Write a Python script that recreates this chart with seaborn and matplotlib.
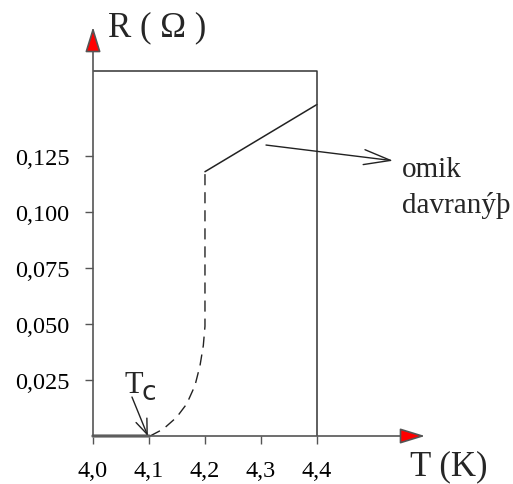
import numpy as np
import pandas as pd
import matplotlib.pyplot as plt
import seaborn as sns

# ------------------------
# Data
# ------------------------
t_normal = [4.20, 4.40]
r_normal = [0.118, 0.148]

t_trans = [4.102, 4.1255, 4.1495, 4.1673, 4.1821, 4.1911, 4.197, 4.200, 4.200]
r_trans = [0.000, 0.0031, 0.0084, 0.0143, 0.0225, 0.0314, 0.0403, 0.049, 0.118]

t_super = [4.00, 4.10]
r_super = [0.0, 0.0]

x_ticks = [4.0, 4.1, 4.2, 4.3, 4.4]
x_labels = ["4,0", "4,1", "4,2", "4,3", "4,4"]
y_ticks = [0.025, 0.050, 0.075, 0.100, 0.125]
y_labels = ["0,025", "0,050", "0,075", "0,100", "0,125"]

box_top = 0.163
x_max = 4.593
y_max = 0.1826

sns.set_theme(style="white")
plt.rcParams['font.family'] = 'serif'
plt.rcParams['font.serif'] = ['Liberation Serif', 'DejaVu Serif']
SERIF = 'Liberation Serif'

fig = plt.figure(figsize=(5.13, 4.85), dpi=100)
ax = fig.add_axes([93 / 513, 48 / 485, 332 / 513, 409 / 485])
ax.set_xlim(4.0, x_max)
ax.set_ylim(0, y_max)

# ------------------------
# Curves
# ------------------------
normal = pd.DataFrame({'T': t_normal, 'R': r_normal})
trans = pd.DataFrame({'T': t_trans, 'R': r_trans})
superc = pd.DataFrame({'T': t_super, 'R': r_super})

sns.lineplot(data=superc, x='T', y='R', color='#8a8a8a', linewidth=2.6, ax=ax, clip_on=False)
sns.lineplot(data=normal, x='T', y='R', color='#222222', linewidth=1.1, ax=ax, sort=False)
sns.lineplot(data=trans, x='T', y='R', color='#222222', linewidth=1.0, ax=ax,
             sort=False, estimator=None, linestyle=(0, (8, 5)))

# frame box (top and right side)
ax.plot([4.0, 4.4, 4.4], [box_top, box_top, 0], color='#333333', linewidth=1.1)

# ------------------------
# Axes with red arrow heads
# ------------------------
for sp in ax.spines.values():
    sp.set_visible(False)

arrow_kw = dict(arrowstyle='-|>,head_length=1.3,head_width=0.4',
                facecolor='red', edgecolor='#555555', linewidth=1.2, shrinkA=0, shrinkB=0)
ax.annotate('', xy=(4.0, y_max), xytext=(4.0, 0), arrowprops=arrow_kw, annotation_clip=False)
ax.annotate('', xy=(x_max, 0), xytext=(4.0, 0), arrowprops=arrow_kw, annotation_clip=False)

ax.set_xticks(x_ticks)
ax.set_xticklabels(x_labels, fontfamily=SERIF)
ax.set_yticks(y_ticks)
ax.set_yticklabels(y_labels, fontfamily=SERIF)
ax.tick_params(axis='both', direction='out', length=6, width=1, color='#555555',
               labelsize=17.5, pad=11, labelcolor='black', bottom=True, left=True)
ax.set_xlabel('')
ax.set_ylabel('')

# axis titles
ax.text(4.027, 0.179, 'R ( Ω )', fontsize=25, ha='left', va='baseline',
        fontfamily=SERIF, clip_on=False)
ax.text(4.566, -0.017, 'T (K)', fontsize=25, ha='left', va='baseline',
        fontfamily=SERIF, clip_on=False)

# ------------------------
# Annotations
# ------------------------
ax.annotate('', xy=(4.536, 0.1229), xytext=(4.309, 0.1299),
            arrowprops=dict(arrowstyle='->,head_length=1.6,head_width=0.45',
                            color='#222222', linewidth=1.0, shrinkA=0, shrinkB=0),
            annotation_clip=False)
ax.text(4.552, 0.1160, 'omik', fontsize=21, ha='left', va='baseline',
        fontfamily=SERIF, clip_on=False)
ax.text(4.552, 0.1000, 'davranýþ', fontsize=21, ha='left', va='baseline',
        fontfamily=SERIF, clip_on=False)

ax.text(4.057, 0.0196, 'T', fontsize=22, ha='left', va='baseline', fontfamily=SERIF)
ax.text(4.087, 0.0164, 'c', fontsize=19, ha='left', va='baseline',
        fontfamily='DejaVu Sans')
ax.annotate('', xy=(4.098, 0.0), xytext=(4.0696, 0.0174),
            arrowprops=dict(arrowstyle='->,head_length=0.9,head_width=0.35',
                            color='#222222', linewidth=1.0, shrinkA=0, shrinkB=0),
            annotation_clip=False)

plt.savefig("out.png", dpi=100)
